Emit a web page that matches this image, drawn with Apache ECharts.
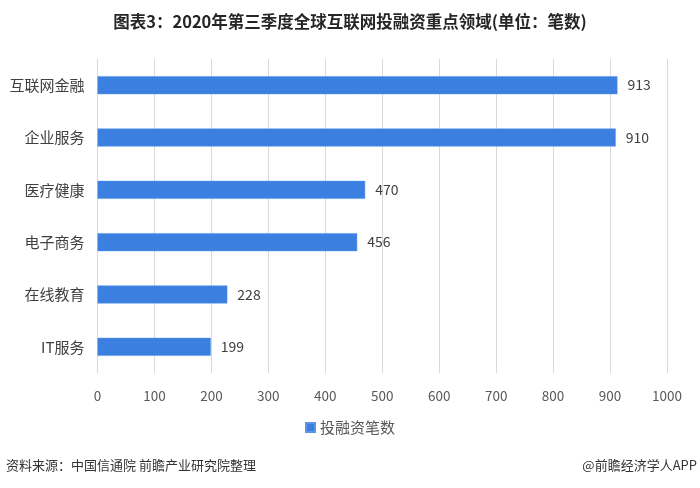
<!DOCTYPE html>
<html><head><meta charset="utf-8">
<script src="https://cdn.jsdelivr.net/npm/echarts@6/dist/echarts.min.js"></script>
<style>html,body{margin:0;padding:0;background:#fff}#c{width:700px;height:488px}</style>
</head><body><div id="c"></div>
<script>
const categories = ['互联网金融','企业服务','医疗健康','电子商务','在线教育','IT服务'];
const values = [913, 910, 470, 456, 228, 199];
const seriesName = '投融资笔数';
const xTicks = [0,100,200,300,400,500,600,700,800,900,1000];

const chart = echarts.init(document.getElementById('c'));
const font = '"Microsoft YaHei","Noto Sans CJK SC",sans-serif';
chart.setOption({
  animation:false,
  textStyle:{fontFamily:font},
  title:{text:'图表3：2020年第三季度全球互联网投融资重点领域(单位：笔数)',left:'center',top:8,
    textStyle:{fontSize:16.5,fontWeight:'bold',color:'#262626',fontFamily:font}},
  legend:{data:[seriesName],top:415,left:'center',itemWidth:9,itemHeight:9,itemGap:4,icon:'rect',
    textStyle:{fontSize:15,color:'#595959',fontFamily:font}},
  grid:{left:97.5,right:33,top:59,bottom:115,containLabel:false},
  xAxis:{type:'value',min:xTicks[0],max:xTicks[xTicks.length-1],interval:xTicks[1]-xTicks[0],
    axisLine:{show:false},axisTick:{show:false},
    splitLine:{show:true,lineStyle:{color:'#d9d9d9',width:1}},
    axisLabel:{fontSize:13.5,color:'#595959',margin:16,fontFamily:font,formatter:v=>String(v)}},
  yAxis:{type:'category',inverse:true,data:categories,
    axisLine:{show:true,lineStyle:{color:'#d9d9d9'}},axisTick:{show:false},
    axisLabel:{fontSize:15,color:'#404040',margin:13,fontFamily:font}},
  series:[{name:seriesName,type:'bar',data:values,barWidth:18,
    itemStyle:{color:'#3b7fe0',borderColor:'#5d96e8',borderWidth:0.5},
    label:{show:true,position:'right',distance:10,fontSize:14,color:'#404040',fontFamily:font}}],
  graphic:[
    {type:'text',left:6,top:459,style:{text:'资料来源：中国信通院 前瞻产业研究院整理',fontSize:13,fill:'#333',fontFamily:font}},
    {type:'text',right:3,top:459,style:{text:'@前瞻经济学人APP',fontSize:13,fill:'#333',fontFamily:font}}
  ]
});
</script></body></html>
